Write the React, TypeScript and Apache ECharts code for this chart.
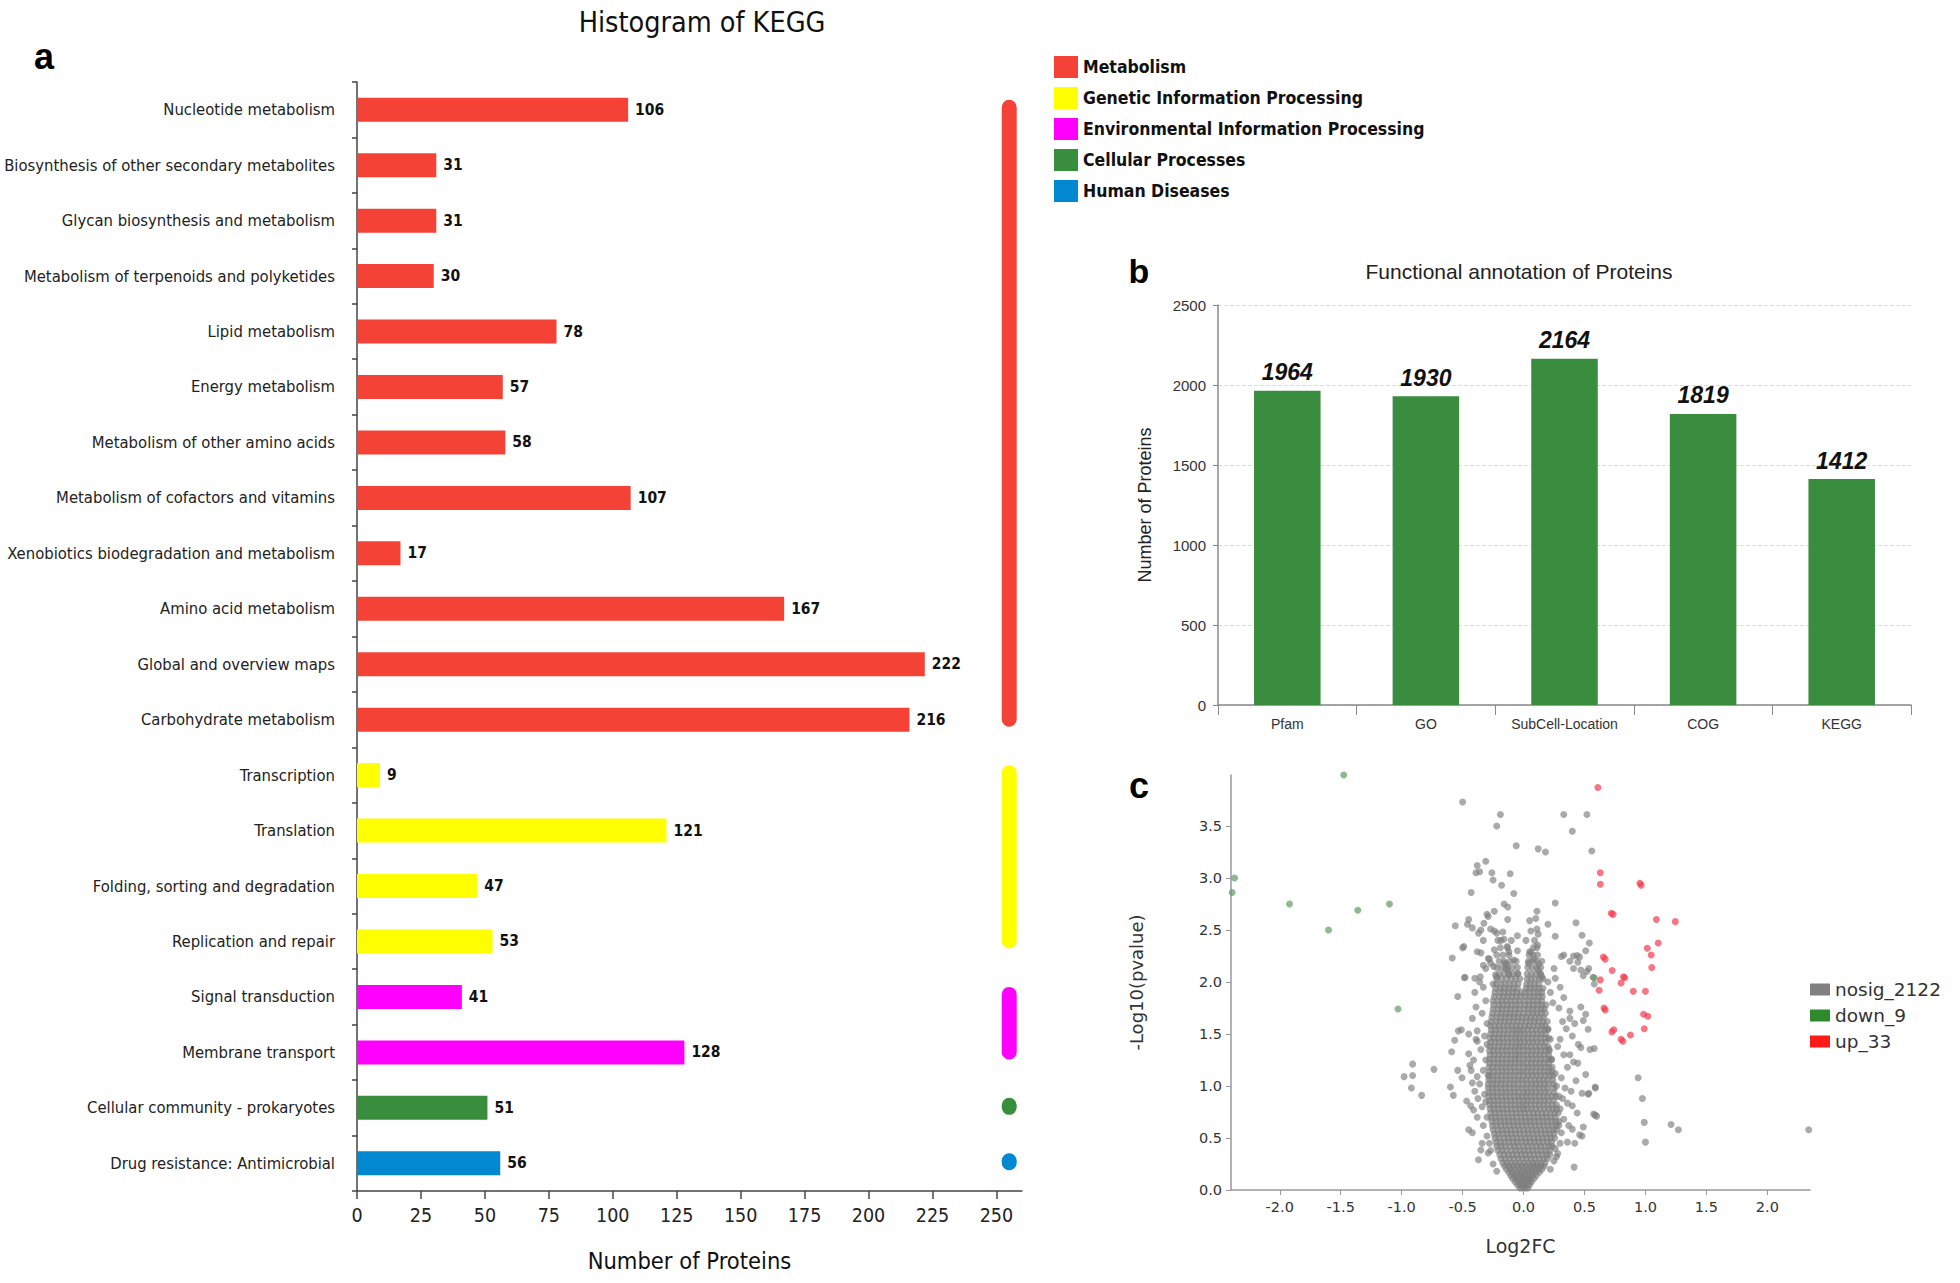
import React, { useEffect, useRef } from "react";
import * as echarts from "echarts";

const NARROW = "'Liberation Sans Narrow', 'Arial Narrow', 'DejaVu Sans Condensed', sans-serif";
const ARIAL = "'Liberation Sans', Arial, sans-serif";
const DEJAVU = "'DejaVu Sans', Verdana, sans-serif";

// ---------- Panel a: KEGG histogram ----------
const keggCategories = [
  "Nucleotide metabolism",
  "Biosynthesis of other secondary metabolites",
  "Glycan biosynthesis and metabolism",
  "Metabolism of terpenoids and polyketides",
  "Lipid metabolism",
  "Energy metabolism",
  "Metabolism of other amino acids",
  "Metabolism of cofactors and vitamins",
  "Xenobiotics biodegradation and metabolism",
  "Amino acid metabolism",
  "Global and overview maps",
  "Carbohydrate metabolism",
  "Transcription",
  "Translation",
  "Folding, sorting and degradation",
  "Replication and repair",
  "Signal transduction",
  "Membrane transport",
  "Cellular community - prokaryotes",
  "Drug resistance: Antimicrobial",
];
const keggValues = [106, 31, 31, 30, 78, 57, 58, 107, 17, 167, 222, 216, 9, 121, 47, 53, 41, 128, 51, 56];
const keggGroupOfCategory = [0, 0, 0, 0, 0, 0, 0, 0, 0, 0, 0, 0, 1, 1, 1, 1, 2, 2, 3, 4];
const keggGroups = [
  "Metabolism",
  "Genetic Information Processing",
  "Environmental Information Processing",
  "Cellular Processes",
  "Human Diseases",
];
const keggGroupColors = ["#f44336", "#ffff00", "#ff00ff", "#388e3c", "#0288d1"];
const keggMarkerX = 255;

// ---------- Panel b: functional annotation ----------
const annotCategories = ["Pfam", "GO", "SubCell-Location", "COG", "KEGG"];
const annotValues = [1964, 1930, 2164, 1819, 1412];

// ---------- Panel c: volcano ----------
const volcanoDown: [number, number][] = [
  [-1.475, 3.99], [-2.37, 3.0], [-2.39, 2.86], [-1.92, 2.75], [-1.1, 2.75],
  [-1.36, 2.69], [-1.6, 2.5], [-1.03, 1.74], [0.58, 2.04],
];
const volcanoUp: [number, number][] = [
  [0.61, 3.87], [0.63, 3.05], [0.63, 2.94], [0.955, 2.95], [0.965, 2.93], [0.72, 2.66], [0.735, 2.65],
  [1.09, 2.6], [1.245, 2.58], [1.105, 2.375], [1.015, 2.325], [1.047, 2.26], [0.655, 2.24], [0.67, 2.22],
  [1.052, 2.14], [0.727, 2.11], [0.82, 2.05], [0.83, 2.04], [0.63, 2.02], [0.8, 1.99], [0.62, 1.92],
  [0.9, 1.91], [1.0, 1.91], [0.66, 1.75], [0.67, 1.73], [0.985, 1.69], [1.02, 1.67], [0.99, 1.55],
  [0.74, 1.54], [0.725, 1.52], [0.877, 1.49], [0.8, 1.45], [0.815, 1.43],
];
const volcanoNosigScatter: [number, number][] = [
  [-0.5, 3.73], [-0.19, 3.61], [-0.22, 3.5], [0.33, 3.61], [0.52, 3.61], [0.4, 3.45], [-0.06, 3.31],
  [0.12, 3.28], [0.18, 3.25], [0.56, 3.26], [-0.31, 3.16], [-0.38, 3.12], [-0.39, 3.05], [-0.36, 3.06],
  [-0.26, 3.05], [-0.11, 3.04], [-0.25, 2.98], [-0.18, 2.93], [-0.43, 2.86], [-0.08, 2.85], [0.26, 2.76],
  [-0.16, 2.75], [-0.13, 2.72], [-0.24, 2.68], [-0.3, 2.65], [-0.29, 2.63], [0.11, 2.68], [-0.45, 2.6],
  [-0.46, 2.555], [-0.13, 2.6], [0.05, 2.59], [0.1, 2.61], [0.43, 2.57], [-0.56, 2.54], [0.2, 2.555],
  [-0.27, 2.51], [-0.24, 2.49], [-0.17, 2.48], [-0.35, 2.5], [0.06, 2.49], [0.11, 2.51], [0.12, 2.46],
  [-0.37, 2.47], [-0.05, 2.445], [0.26, 2.44], [0.48, 2.45], [-0.33, 2.4], [-0.16, 2.41], [0.54, 2.375],
  [-0.49, 2.34], [-0.5, 2.33], [-0.24, 2.31], [-0.38, 2.29], [-0.35, 2.28], [-0.12, 2.29], [0.06, 2.285],
  [0.115, 2.355], [0.05, 2.29], [0.51, 2.3], [0.33, 2.26], [0.41, 2.25], [0.44, 2.255], [-0.585, 2.23],
  [-0.28, 2.22], [-0.29, 2.225], [0.085, 2.22], [0.31, 2.245], [0.38, 2.2], [0.445, 2.19], [0.46, 2.24],
  [-0.15, 2.18], [-0.15, 2.13], [0.04, 2.18], [0.125, 2.17], [-0.33, 2.16], [-0.14, 2.17], [-0.13, 2.115],
  [0.12, 2.115], [0.14, 2.08], [0.25, 2.13], [0.41, 2.13], [0.47, 2.115], [0.52, 2.1], [0.535, 2.13],
  [0.49, 2.06], [0.26, 2.035], [0.57, 2.045], [0.58, 1.98], [-0.485, 2.04], [-0.36, 2.0],
  [-0.27, 2.18], [-0.245, 2.15], [-0.31, 2.13], [-0.48, 2.045], [-0.355, 2.05], [-0.4, 2.035],
  [-0.23, 2.07], [-0.12, 2.07], [-0.05, 2.08], [-0.42, 2.52], [-0.325, 2.565], [-0.22, 2.47],
  [-0.185, 2.4], [-0.134, 2.34], [-0.08, 2.21],
  [-0.54, 1.86], [-0.39, 1.76], [0.47, 1.76], [0.51, 1.69], [0.38, 1.65], [0.49, 1.63], [-0.51, 1.54],
  [-0.535, 1.53], [-0.38, 1.53], [-0.565, 1.44], [-0.38, 1.43], [0.47, 1.37], [0.58, 1.36], [-0.59, 1.33],
  [-0.45, 1.31], [0.41, 1.23], [0.445, 1.22], [-0.91, 1.21], [-0.735, 1.16], [-0.54, 1.15], [-0.43, 1.15],
  [-0.98, 1.09], [-0.91, 1.1], [-0.505, 1.08], [-0.38, 1.09], [-0.42, 1.03], [0.51, 1.11], [-0.92, 0.98],
  [-0.6, 0.99], [-0.836, 0.91], [-0.576, 0.91], [0.59, 0.98], [0.48, 0.93], [0.535, 0.93], [-0.467, 0.855],
  [-0.434, 0.81], [-0.374, 0.88], [0.36, 0.835], [0.4, 0.81], [-0.41, 0.77], [0.44, 0.74], [0.575, 0.73],
  [0.6, 0.71], [-0.45, 0.58], [0.4, 0.585], [0.49, 0.605], [0.36, 0.46], [0.48, 0.52], [-0.34, 0.45],
  [-0.35, 0.385], [-0.29, 0.355], [-0.37, 0.29], [0.415, 0.22], [0.94, 1.08], [0.975, 0.88], [0.99, 0.65],
  [1.0, 0.46], [1.21, 0.63], [1.27, 0.58], [2.34, 0.58], [0.587, 0.99], [0.53, 0.92], [0.587, 0.72],
  [0.46, 0.53], [0.545, 1.35], [0.53, 1.545],
  [-0.33, 1.95], [-0.31, 1.82], [-0.34, 1.7], [-0.3, 1.6], [-0.32, 1.48], [-0.35, 1.35], [-0.31, 1.25],
  [-0.33, 1.15], [-0.36, 1.02], [-0.32, 0.92], [-0.34, 0.8], [-0.3, 0.7], [-0.33, 0.62], [-0.3, 0.52],
  [0.3, 1.95], [0.33, 1.85], [0.29, 1.75], [0.32, 1.62], [0.35, 1.55], [0.3, 1.45], [0.28, 1.38],
  [0.33, 1.3], [0.36, 1.18], [0.31, 1.08], [0.34, 0.98], [0.32, 0.88], [0.3, 0.78], [0.33, 0.68],
  [0.31, 0.55], [0.3, 0.45], [0.28, 0.35], [0.25, 0.28], [0.22, 0.2], [0.27, 0.32], [-0.25, 0.25],
  [-0.22, 0.18], [0.38, 1.72], [0.42, 1.6], [0.4, 1.48], [0.45, 1.4], [0.38, 1.3], [0.43, 1.05],
  [0.39, 0.95], [0.37, 0.62], [0.42, 0.45], [-0.4, 1.9], [-0.42, 1.65], [-0.45, 1.5], [-0.39, 1.45],
  [-0.41, 1.25], [-0.44, 1.2], [-0.4, 0.95], [-0.38, 0.7], [-0.42, 0.55], [0.2, 2.0], [0.22, 1.9],
  [0.24, 1.8], [0.2, 1.55], [0.22, 1.45], [-0.25, 1.98], [-0.22, 2.05], [0.15, 2.05], [-0.05, 2.3],
  [0.02, 2.4], [0.23, 1.25], [0.26, 1.12], [0.27, 1.0], [0.29, 0.9], [0.21, 1.35], [-0.3, 1.4],
  [-0.29, 1.1], [-0.31, 0.85], [-0.28, 0.45], [-0.27, 0.38], [0.29, 0.62], [0.26, 0.4],
];
// dense core, read row by row: [-log10(p), log2FC values on that row]
const volcanoNosigCoreRows: [number, number[]][] = [
  [0.02, [-0.03, -0.01, 0.015, 0.035]],
  [0.05, [-0.05, -0.025, 0.0, 0.025, 0.05]],
  [0.08, [-0.07, -0.045, -0.015, 0.01, 0.04, 0.065]],
  [0.11, [-0.09, -0.06, -0.03, 0.0, 0.03, 0.055, 0.085]],
  [0.14, [-0.105, -0.075, -0.045, -0.015, 0.015, 0.045, 0.075, 0.105]],
  [0.17, [-0.12, -0.09, -0.055, -0.02, 0.01, 0.04, 0.07, 0.1, 0.13]],
  [0.2, [-0.14, -0.105, -0.07, -0.035, 0.0, 0.035, 0.065, 0.095, 0.125, 0.15]],
  [0.23, [-0.155, -0.12, -0.085, -0.05, -0.015, 0.02, 0.055, 0.085, 0.115, 0.145, 0.17]],
  [0.26, [-0.17, -0.135, -0.1, -0.065, -0.03, 0.005, 0.04, 0.075, 0.105, 0.14, 0.175]],
  [0.3, [-0.185, -0.15, -0.115, -0.08, -0.045, -0.01, 0.025, 0.06, 0.095, 0.13, 0.165, 0.195]],
  [0.34, [-0.195, -0.16, -0.125, -0.09, -0.055, -0.02, 0.015, 0.05, 0.085, 0.12, 0.155, 0.19, 0.215]],
  [0.38, [-0.21, -0.175, -0.14, -0.1, -0.065, -0.03, 0.005, 0.04, 0.075, 0.11, 0.145, 0.18, 0.215]],
  [0.42, [-0.22, -0.185, -0.15, -0.11, -0.075, -0.04, 0.0, 0.035, 0.07, 0.105, 0.14, 0.175, 0.21, 0.235]],
  [0.46, [-0.225, -0.19, -0.155, -0.12, -0.085, -0.05, -0.015, 0.02, 0.055, 0.09, 0.125, 0.16, 0.195, 0.23]],
  [0.5, [-0.235, -0.2, -0.16, -0.125, -0.09, -0.055, -0.02, 0.015, 0.05, 0.085, 0.12, 0.155, 0.19, 0.225, 0.255]],
  [0.54, [-0.24, -0.205, -0.17, -0.135, -0.1, -0.065, -0.03, 0.005, 0.04, 0.075, 0.11, 0.145, 0.18, 0.215, 0.25]],
  [0.58, [-0.25, -0.21, -0.175, -0.14, -0.105, -0.07, -0.035, 0.0, 0.035, 0.07, 0.105, 0.14, 0.175, 0.21, 0.245, 0.27]],
  [0.62, [-0.255, -0.22, -0.185, -0.15, -0.115, -0.08, -0.045, -0.01, 0.025, 0.06, 0.095, 0.13, 0.165, 0.2, 0.235, 0.27]],
  [0.66, [-0.26, -0.225, -0.19, -0.155, -0.12, -0.085, -0.05, -0.015, 0.02, 0.055, 0.09, 0.125, 0.16, 0.195, 0.23, 0.265, 0.29]],
  [0.7, [-0.265, -0.23, -0.195, -0.16, -0.125, -0.09, -0.055, -0.02, 0.015, 0.05, 0.085, 0.12, 0.155, 0.19, 0.225, 0.26]],
  [0.74, [-0.27, -0.235, -0.2, -0.165, -0.13, -0.095, -0.06, -0.025, 0.01, 0.045, 0.08, 0.115, 0.15, 0.185, 0.22, 0.255, 0.285]],
  [0.78, [-0.275, -0.24, -0.205, -0.17, -0.135, -0.1, -0.065, -0.03, 0.0, 0.03, 0.065, 0.1, 0.135, 0.17, 0.205, 0.24, 0.27]],
  [0.82, [-0.28, -0.245, -0.21, -0.175, -0.14, -0.105, -0.07, -0.035, -0.005, 0.025, 0.06, 0.095, 0.13, 0.165, 0.2, 0.235, 0.27]],
  [0.86, [-0.28, -0.245, -0.21, -0.175, -0.14, -0.105, -0.07, -0.035, 0.0, 0.03, 0.065, 0.1, 0.135, 0.17, 0.205, 0.245]],
  [0.9, [-0.285, -0.25, -0.215, -0.18, -0.145, -0.11, -0.075, -0.04, -0.01, 0.025, 0.06, 0.095, 0.13, 0.165, 0.2, 0.235, 0.265]],
  [0.94, [-0.285, -0.25, -0.215, -0.18, -0.145, -0.11, -0.075, -0.04, 0.0, 0.03, 0.065, 0.1, 0.135, 0.17, 0.205, 0.25]],
  [0.98, [-0.29, -0.255, -0.22, -0.185, -0.15, -0.115, -0.08, -0.045, -0.01, 0.025, 0.06, 0.095, 0.13, 0.165, 0.2, 0.25]],
  [1.02, [-0.29, -0.255, -0.22, -0.185, -0.15, -0.115, -0.08, -0.045, -0.005, 0.03, 0.065, 0.1, 0.135, 0.17, 0.205, 0.245]],
  [1.06, [-0.285, -0.25, -0.215, -0.18, -0.145, -0.11, -0.075, -0.04, -0.01, 0.025, 0.06, 0.095, 0.13, 0.165, 0.2, 0.24]],
  [1.1, [-0.285, -0.25, -0.215, -0.18, -0.145, -0.11, -0.075, -0.04, 0.0, 0.035, 0.07, 0.105, 0.14, 0.175, 0.21, 0.24]],
  [1.14, [-0.28, -0.245, -0.21, -0.175, -0.14, -0.105, -0.07, -0.035, -0.005, 0.03, 0.065, 0.1, 0.135, 0.17, 0.205, 0.235]],
  [1.18, [-0.285, -0.25, -0.215, -0.18, -0.145, -0.11, -0.075, -0.04, 0.0, 0.035, 0.07, 0.105, 0.14, 0.175, 0.21, 0.235]],
  [1.22, [-0.28, -0.245, -0.21, -0.175, -0.14, -0.105, -0.07, -0.035, -0.005, 0.03, 0.065, 0.1, 0.135, 0.17, 0.205]],
  [1.26, [-0.28, -0.245, -0.21, -0.175, -0.14, -0.105, -0.07, -0.04, 0.0, 0.035, 0.07, 0.105, 0.14, 0.175, 0.21, 0.23]],
  [1.3, [-0.275, -0.24, -0.205, -0.17, -0.135, -0.1, -0.065, -0.035, -0.005, 0.03, 0.065, 0.1, 0.135, 0.17, 0.205]],
  [1.34, [-0.28, -0.245, -0.21, -0.175, -0.14, -0.105, -0.07, -0.04, 0.0, 0.035, 0.07, 0.105, 0.14, 0.175, 0.21]],
  [1.38, [-0.275, -0.24, -0.205, -0.17, -0.135, -0.1, -0.065, -0.035, -0.005, 0.03, 0.065, 0.1, 0.135, 0.17, 0.2]],
  [1.42, [-0.27, -0.235, -0.2, -0.165, -0.13, -0.095, -0.06, -0.03, 0.005, 0.04, 0.075, 0.11, 0.145, 0.18]],
  [1.46, [-0.275, -0.24, -0.205, -0.17, -0.135, -0.1, -0.065, -0.035, 0.0, 0.035, 0.07, 0.105, 0.14, 0.175, 0.205]],
  [1.5, [-0.27, -0.235, -0.2, -0.165, -0.13, -0.095, -0.06, -0.03, 0.005, 0.04, 0.075, 0.11, 0.145, 0.18]],
  [1.54, [-0.265, -0.23, -0.195, -0.16, -0.125, -0.09, -0.06, -0.03, 0.0, 0.035, 0.07, 0.105, 0.14, 0.175, 0.2]],
  [1.58, [-0.27, -0.235, -0.2, -0.165, -0.13, -0.095, -0.06, -0.025, 0.01, 0.045, 0.08, 0.115, 0.15, 0.175]],
  [1.62, [-0.265, -0.225, -0.19, -0.155, -0.12, -0.085, -0.05, -0.015, 0.02, 0.055, 0.09, 0.125, 0.16, 0.195]],
  [1.66, [-0.26, -0.22, -0.185, -0.15, -0.115, -0.08, -0.045, -0.01, 0.025, 0.06, 0.095, 0.13, 0.165]],
  [1.7, [-0.255, -0.215, -0.18, -0.145, -0.11, -0.075, -0.04, 0.0, 0.04, 0.075, 0.11, 0.145, 0.18]],
  [1.74, [-0.25, -0.21, -0.175, -0.14, -0.105, -0.07, -0.035, 0.005, 0.04, 0.075, 0.11, 0.145, 0.17]],
  [1.78, [-0.245, -0.205, -0.17, -0.135, -0.1, -0.065, -0.03, 0.01, 0.045, 0.08, 0.115, 0.15, 0.185]],
  [1.82, [-0.25, -0.21, -0.175, -0.14, -0.105, -0.07, -0.035, 0.005, 0.045, 0.08, 0.115, 0.15]],
  [1.86, [-0.24, -0.2, -0.165, -0.13, -0.095, -0.06, -0.025, 0.015, 0.05, 0.085, 0.12, 0.155]],
  [1.9, [-0.235, -0.195, -0.16, -0.125, -0.09, -0.055, -0.02, 0.015, 0.05, 0.085, 0.12, 0.15]],
  [1.94, [-0.23, -0.19, -0.155, -0.12, -0.085, -0.05, 0.02, 0.055, 0.09, 0.125, 0.16]],
  [1.98, [-0.225, -0.185, -0.15, -0.115, -0.08, -0.045, 0.025, 0.055, 0.09, 0.125]],
  [2.03, [-0.22, -0.18, -0.14, -0.1, -0.065, -0.03, 0.03, 0.06, 0.095, 0.13, 0.16]],
  [2.08, [-0.2, -0.16, -0.12, -0.085, -0.045, 0.03, 0.065, 0.1, 0.135]],
  [2.14, [-0.22, -0.18, -0.13, -0.09, -0.05, 0.035, 0.07, 0.105, 0.14]],
  [2.2, [-0.2, -0.16, -0.11, -0.06, 0.04, 0.075, 0.11, 0.15]],
  [2.26, [-0.22, -0.17, -0.12, 0.045, 0.08, 0.115]],
  [2.33, [-0.19, -0.13, 0.08, 0.11]],
  [2.4, [-0.21, -0.1, 0.09]],
];
const volcanoLegendNames = ["nosig_2122", "down_9", "up_33"];

export default function App() {
  const ref = useRef<HTMLDivElement>(null);

  useEffect(() => {
    if (!ref.current) return;
    const chart = echarts.init(ref.current, undefined, { renderer: "svg" });

    const spans = keggGroups.map((_, gi) => {
      const idx = keggGroupOfCategory.map((g, i) => (g === gi ? i : -1)).filter((i) => i >= 0);
      return [keggMarkerX, idx[0], idx[idx.length - 1], gi];
    });

    const nosigPoints: [number, number][] = [...volcanoNosigScatter];
    volcanoNosigCoreRows.forEach(([y, xs]) => xs.forEach((x) => nosigPoints.push([x, y])));

    const keggSeries = keggGroups.map((g, gi) => ({
      type: "bar",
      name: g,
      stack: "kegg",
      xAxisIndex: 0,
      yAxisIndex: 0,
      barWidth: 24,
      itemStyle: { color: keggGroupColors[gi] },
      data: keggValues.map((v, i) => (keggGroupOfCategory[i] === gi ? v : "-")),
      label: {
        show: true,
        position: "right",
        distance: 7,
        formatter: "{c}",
        fontSize: 15.5,
        fontWeight: "bold",
        fontFamily: NARROW,
        color: "#111",
      },
    }));

    const fmt1 = (v: number) => v.toFixed(1);
    const fmtInt = (v: number) => String(v);

    const option: any = {
      animation: false,
      backgroundColor: "#ffffff",
      graphic: [
        { type: "text", x: 702, y: 22, style: { text: "Histogram of KEGG", fontSize: 28.5, fontFamily: NARROW, fill: "#111", align: "center", verticalAlign: "middle" } },
        { type: "text", x: 44, y: 56, style: { text: "a", fontSize: 36, fontWeight: "bold", fontFamily: ARIAL, fill: "#000", align: "center", verticalAlign: "middle" } },
        { type: "text", x: 1139, y: 271, style: { text: "b", fontSize: 34, fontWeight: "bold", fontFamily: ARIAL, fill: "#000", align: "center", verticalAlign: "middle" } },
        { type: "text", x: 1139, y: 785, style: { text: "c", fontSize: 36, fontWeight: "bold", fontFamily: ARIAL, fill: "#000", align: "center", verticalAlign: "middle" } },
        { type: "text", x: 1519, y: 271, style: { text: "Functional annotation of Proteins", fontSize: 21, fontFamily: ARIAL, fill: "#222", align: "center", verticalAlign: "middle" } },
      ],
      legend: [
        {
          data: keggGroups,
          orient: "vertical",
          left: 1054,
          top: 56,
          padding: 0,
          itemWidth: 24,
          itemHeight: 22,
          itemGap: 9,
          icon: "rect",
          selectedMode: false,
          textStyle: { fontSize: 17.5, fontWeight: "bold", fontFamily: NARROW, color: "#111" },
        },
        {
          data: [
            { name: volcanoLegendNames[0], itemStyle: { color: "#808080", opacity: 1 } },
            { name: volcanoLegendNames[1], itemStyle: { color: "#2f8a2f", opacity: 1 } },
            { name: volcanoLegendNames[2], itemStyle: { color: "#ff1a1a", opacity: 1 } },
          ],
          orient: "vertical",
          left: 1810,
          top: 980,
          padding: 0,
          itemWidth: 20,
          itemHeight: 12,
          itemGap: 7,
          icon: "rect",
          selectedMode: false,
          textStyle: { fontSize: 18.5, fontFamily: DEJAVU, color: "#333" },
        },
      ],
      grid: [
        { left: 357, top: 82, width: 665, height: 1109, containLabel: false, outerBoundsMode: "none" },
        { left: 1218, top: 305, width: 693, height: 400, containLabel: false, outerBoundsMode: "none" },
        { left: 1231, top: 775, width: 579, height: 415, containLabel: false, outerBoundsMode: "none" },
      ],
      xAxis: [
        {
          gridIndex: 0,
          type: "value",
          min: 0,
          max: 260,
          interval: 25,
          axisLine: { show: true, lineStyle: { color: "#444", width: 1.5 } },
          axisTick: { show: true, length: 8, lineStyle: { color: "#444", width: 1.5 } },
          axisLabel: { fontSize: 19.5, fontFamily: NARROW, color: "#222", margin: 14, showMaxLabel: false, formatter: fmtInt },
          splitLine: { show: false },
          name: "Number of Proteins",
          nameLocation: "middle",
          nameGap: 58,
          nameTextStyle: { fontSize: 23.5, fontFamily: NARROW, color: "#111" },
        },
        {
          gridIndex: 1,
          type: "category",
          data: annotCategories,
          axisLine: { show: true, lineStyle: { color: "#888", width: 1.5 } },
          axisTick: { show: true, length: 10, lineStyle: { color: "#888" } },
          axisLabel: { fontSize: 14, fontFamily: ARIAL, color: "#333", margin: 12, interval: 0 },
          splitLine: { show: false },
        },
        {
          gridIndex: 2,
          type: "value",
          min: -2.4,
          max: 2.35,
          splitNumber: 10,
          axisLine: { show: true, onZero: false, lineStyle: { color: "#999", width: 1.5 } },
          axisTick: { show: true, length: 5, lineStyle: { color: "#999" } },
          axisLabel: { fontSize: 14.5, fontFamily: DEJAVU, color: "#333", margin: 9, formatter: fmt1, showMinLabel: false, showMaxLabel: false },
          splitLine: { show: false },
          name: "Log2FC",
          nameLocation: "middle",
          nameGap: 46,
          nameTextStyle: { fontSize: 19, fontFamily: DEJAVU, color: "#333" },
        },
      ],
      yAxis: [
        {
          gridIndex: 0,
          type: "category",
          inverse: true,
          data: keggCategories,
          axisLine: { show: true, lineStyle: { color: "#444", width: 1.5 } },
          axisTick: { show: true, length: 5, lineStyle: { color: "#444", width: 1.5 } },
          axisLabel: { fontSize: 16.5, fontFamily: NARROW, color: "#222", margin: 22 },
          splitLine: { show: false },
        },
        {
          gridIndex: 1,
          type: "value",
          min: 0,
          max: 2500,
          interval: 500,
          axisLine: { show: true, lineStyle: { color: "#888", width: 1.5 } },
          axisTick: { show: true, length: 5, lineStyle: { color: "#888" } },
          axisLabel: { fontSize: 15, fontFamily: ARIAL, color: "#333", margin: 12, formatter: fmtInt },
          splitLine: { show: true, lineStyle: { type: "dashed", color: "#dcdcdc" } },
          name: "Number of Proteins",
          nameLocation: "middle",
          nameGap: 64,
          nameTextStyle: { fontSize: 18, fontFamily: ARIAL, color: "#222" },
        },
        {
          gridIndex: 2,
          type: "value",
          min: 0,
          max: 3.99,
          splitNumber: 8,
          axisLine: { show: true, onZero: false, lineStyle: { color: "#999", width: 1.5 } },
          axisTick: { show: true, length: 5, lineStyle: { color: "#999" } },
          axisLabel: { fontSize: 14.5, fontFamily: DEJAVU, color: "#333", margin: 9, formatter: fmt1, showMaxLabel: false },
          splitLine: { show: false },
          name: "-Log10(pvalue)",
          nameLocation: "middle",
          nameGap: 86,
          nameTextStyle: { fontSize: 18, fontFamily: DEJAVU, color: "#333" },
        },
      ],
      series: [
        ...keggSeries,
        {
          type: "custom",
          name: "groupMarkers",
          xAxisIndex: 0,
          yAxisIndex: 0,
          data: spans,
          encode: { x: 0, y: 1 },
          renderItem: (params: any, api: any) => {
            const p1 = api.coord([api.value(0), api.value(1)]);
            const p2 = api.coord([api.value(0), api.value(2)]);
            const top = p1[1] - 10;
            const h = p2[1] - p1[1] + 17;
            return {
              type: "rect",
              shape: { x: p1[0] - 7.5, y: top, width: 15, height: h, r: 7.5 },
              style: { fill: keggGroupColors[api.value(3)] },
            };
          },
        },
        {
          type: "bar",
          name: "annotation",
          xAxisIndex: 1,
          yAxisIndex: 1,
          barWidth: "48%",
          data: annotValues,
          itemStyle: { color: "#3a8c3e" },
          label: {
            show: true,
            position: "top",
            distance: 7,
            fontSize: 23,
            fontWeight: "bold",
            fontStyle: "italic",
            fontFamily: ARIAL,
            color: "#111",
          },
        },
        {
          type: "scatter",
          name: volcanoLegendNames[0],
          xAxisIndex: 2,
          yAxisIndex: 2,
          symbolSize: 7,
          data: nosigPoints,
          itemStyle: { color: "rgba(125,125,125,0.82)" },
        },
        {
          type: "scatter",
          name: volcanoLegendNames[1],
          xAxisIndex: 2,
          yAxisIndex: 2,
          symbolSize: 7,
          data: volcanoDown,
          itemStyle: { color: "rgba(95,150,95,0.85)" },
        },
        {
          type: "scatter",
          name: volcanoLegendNames[2],
          xAxisIndex: 2,
          yAxisIndex: 2,
          symbolSize: 7,
          data: volcanoUp,
          itemStyle: { color: "rgba(240,55,75,0.85)" },
        },
      ],
    };

    chart.setOption(option);
    return () => chart.dispose();
  }, []);

  return (
    <div
      ref={ref}
      style={{ position: "absolute", left: 0, top: 0, width: 1960, height: 1283, background: "#fff" }}
    />
  );
}
